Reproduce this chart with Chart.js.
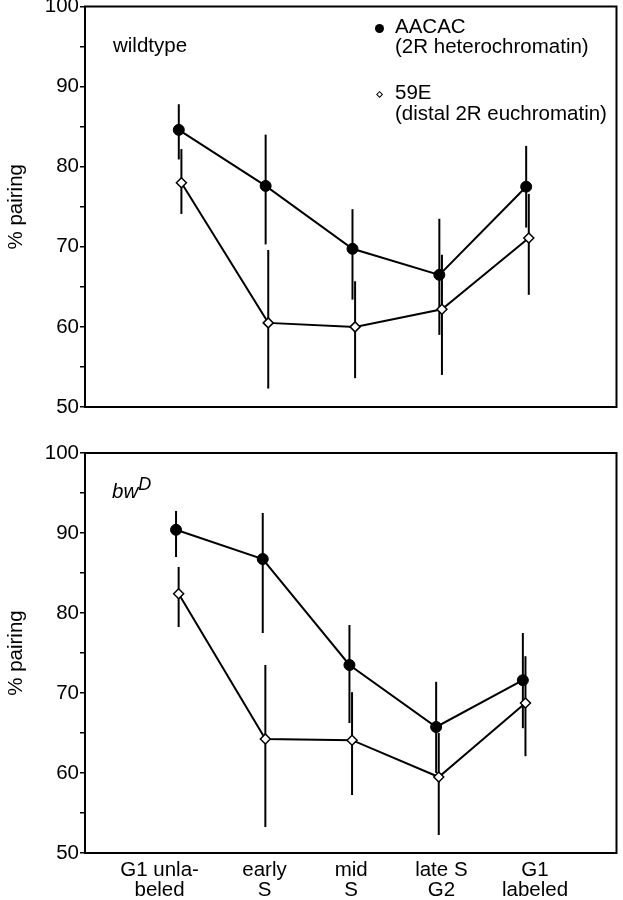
<!DOCTYPE html>
<html lang="en">
<head>
<meta charset="utf-8" />
<title>% pairing</title>
<script src="https://cdn.jsdelivr.net/npm/chart.js"></script>
<style>
  body { margin: 0; background: #fff; font-family: "Liberation Sans", Arial, sans-serif; color: #000; }
  #page { position: relative; width: 623px; height: 900px; overflow: hidden; }
  canvas { position: absolute; left: 0; }
  .txt { position: absolute; font-size: 20.5px; line-height: 20px; white-space: nowrap; }
  .dot { position: absolute; width: 9px; height: 9px; border-radius: 50%; background: #000; }
  .diamond { position: absolute; width: 5.2px; height: 5.2px; box-sizing: border-box; border: 1.5px solid #000; background: #fff; transform: rotate(45deg); }
</style>
</head>
<body>
<div id="page">
  <canvas id="wtChart" width="623" height="420" style="top:0"></canvas>
  <canvas id="bwChart" width="623" height="470" style="top:430px"></canvas>

  <!-- panel labels -->
  <div class="txt" style="left:113px; top:35px">wildtype</div>
  <div class="txt" style="left:112px; top:481px; font-style:italic">bw<span style="font-size:18px; position:relative; top:-8px">D</span></div>

  <!-- legend -->
  <div class="dot" style="left:374.5px; top:23.5px"></div>
  <div class="txt" style="left:395px; top:16px">AACAC<br>(2R heterochromatin)</div>
  <div class="diamond" style="left:377.4px; top:92.4px"></div>
  <div class="txt" style="left:395px; top:80.5px; line-height:21px">59E<br>(distal 2R euchromatin)</div>
</div>

<script>
  // x categories (stage of the cell cycle)
  const categories = [['G1 unla-', 'beled'], ['early', 'S'], ['mid', 'S'], ['late S', 'G2'], ['G1', 'labeled']];
  // where the category labels sit on the x axis (axis units)
  const labelPos = [-0.19, 1.02, 2.02, 3.06, 4.14];
  const yTicks = [50, 60, 70, 80, 90, 100];

  // wildtype
  const aacacWT = [84.6, 77.6, 69.75, 66.5, 77.5];
  const aacacWTLo = [80.9, 70.3, 63.4, 59.0, 72.4];
  const aacacWTHi = [87.8, 84.0, 74.7, 73.5, 82.6];
  const e59WT = [78.0, 60.5, 60.0, 62.2, 71.1];
  const e59WTLo = [74.1, 52.3, 53.6, 54.0, 64.0];
  const e59WTHi = [82.2, 69.6, 65.7, 69.0, 76.6];

  // bwD
  const aacacBw = [90.4, 86.75, 73.5, 65.75, 71.6];
  const aacacBwLo = [87.0, 77.5, 66.25, 60.0, 65.6];
  const aacacBwHi = [92.75, 92.5, 78.5, 71.4, 77.5];
  const e59Bw = [82.4, 64.25, 64.1, 59.5, 68.75];
  const e59BwLo = [78.25, 53.25, 57.25, 52.25, 62.1];
  const e59BwHi = [85.75, 73.5, 70.1, 65.0, 74.6];

  const openShift = 0.03;

  Chart.defaults.font.family = '"Liberation Sans", Arial, sans-serif';
  Chart.defaults.font.size = 20.5;
  Chart.defaults.color = '#000';

  function pts(vals, shift) {
    return vals.map((v, i) => ({ x: i + shift, y: v }));
  }

  // vertical error bars + box frame round the plot area
  function errorBarsPlugin(bars) {
    return {
      id: 'errorBars',
      beforeDatasetsDraw(chart) {
        const { ctx, scales: { x, y } } = chart;
        ctx.save();
        ctx.strokeStyle = '#000';
        ctx.lineWidth = 2;
        bars.forEach(b => {
          b.lo.forEach((lo, i) => {
            const px = x.getPixelForValue(i + b.shift);
            ctx.beginPath();
            ctx.moveTo(px, y.getPixelForValue(lo));
            ctx.lineTo(px, y.getPixelForValue(b.hi[i]));
            ctx.stroke();
          });
        });
        ctx.restore();
      },
      afterDraw(chart) {
        const { ctx, chartArea: a } = chart;
        ctx.save();
        ctx.strokeStyle = '#000';
        ctx.lineWidth = 2;
        ctx.strokeRect(a.left, a.top, a.right - a.left, a.bottom - a.top);
        ctx.restore();
      }
    };
  }

  function buildChart(id, aacac, e59, bars, cfg) {
    const ctx = document.getElementById(id).getContext('2d');
    return new Chart(ctx, {
      type: 'line',
      data: {
        datasets: [{
          label: 'AACAC',
          data: pts(aacac, 0),
          borderColor: '#000',
          borderWidth: 2,
          pointStyle: 'circle',
          pointRadius: 5.5,
          pointBackgroundColor: '#000',
          pointBorderColor: '#000',
          pointBorderWidth: 1
        }, {
          label: '59E',
          data: pts(e59, openShift),
          borderColor: '#000',
          borderWidth: 2,
          pointStyle: 'rectRot',
          pointRadius: 5,
          pointBackgroundColor: '#fff',
          pointBorderColor: '#000',
          pointBorderWidth: 1.5
        }]
      },
      options: {
        responsive: false,
        animation: false,
        layout: { padding: cfg.padding },
        plugins: { legend: { display: false }, tooltip: { enabled: false } },
        scales: {
          x: {
            type: 'linear',
            min: cfg.xMin,
            max: cfg.xMax,
            display: cfg.showX,
            grid: { display: false, drawTicks: false, tickLength: 0 },
            border: { display: false },
            ticks: {
              autoSkip: false,
              maxRotation: 0,
              padding: 7,
              font: { size: 20.5, lineHeight: 0.98 },
              callback: (v, i) => categories[i]
            },
            afterBuildTicks: s => { s.ticks = labelPos.map(v => ({ value: v })); },
            afterFit: s => { s.height = cfg.xHeight; s.paddingLeft = 0; s.paddingRight = 0; }
          },
          y: {
            min: 50,
            max: 100,
            grid: { drawOnChartArea: false, drawTicks: true, tickLength: 5, color: '#000', lineWidth: 1.5 },
            border: { display: false },
            ticks: {
              stepSize: 5,
              padding: 1,
              callback: v => (yTicks.includes(v) ? v : '')
            },
            title: { display: true, text: '% pairing', font: { size: 20.5 }, padding: { top: 4, bottom: 0 } },
            afterFit: s => { s.width = 85; s.paddingTop = 0; s.paddingBottom = 0; }
          }
        }
      },
      plugins: [errorBarsPlugin(bars)]
    });
  }

  buildChart('wtChart', aacacWT, e59WT, [
    { lo: aacacWTLo, hi: aacacWTHi, shift: 0 },
    { lo: e59WTLo, hi: e59WTHi, shift: openShift }
  ], { padding: { top: 5, right: 4, bottom: 13, left: 0 }, xMin: -1.08, xMax: 5.04, showX: false, xHeight: 0 });

  buildChart('bwChart', aacacBw, e59Bw, [
    { lo: aacacBwLo, hi: aacacBwHi, shift: 0 },
    { lo: e59BwLo, hi: e59BwHi, shift: openShift }
  ], { padding: { top: 23, right: 3, bottom: 0, left: 0 }, xMin: -1.05, xMax: 5.08, showX: true, xHeight: 47 });
</script>
</body>
</html>
